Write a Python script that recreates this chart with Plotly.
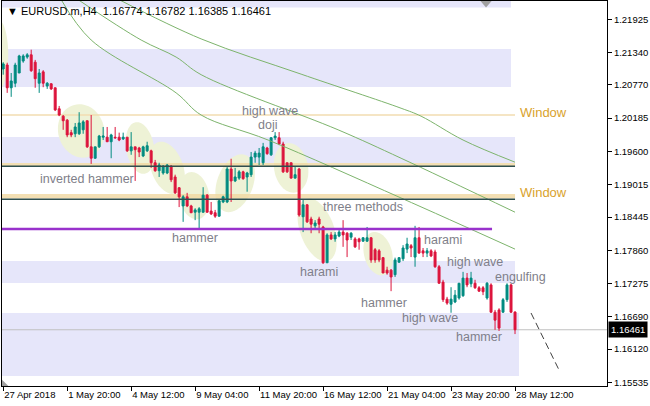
import math
import plotly.graph_objects as go

# ---------------- data ----------------
x_tick_bars = [0, 16, 32, 48, 64, 80, 96, 112, 128]
x_tick_labels = ["27 Apr 2018", "1 May 20:00", "4 May 12:00", "9 May 04:00", "11 May 20:00",
                 "16 May 12:00", "21 May 04:00", "23 May 20:00", "28 May 12:00"]
y_tick_values = [1.21925, 1.21340, 1.20770, 1.20185, 1.19600, 1.19015, 1.18445,
                 1.17860, 1.17275, 1.16690, 1.16120, 1.15535]

opens = [1.2105, 1.2112, 1.2072, 1.2080, 1.2098, 1.2119, 1.2126, 1.2130, 1.2117, 1.2080,
         1.2100, 1.2075, 1.2079, 1.2072, 1.2035, 1.2022, 1.2015, 1.1993, 1.1991, 1.1991,
         1.1998, 1.2014, 1.1968, 1.1948, 1.1968, 1.1985, 1.1985, 1.1977, 1.1985, 1.1985,
         1.1982, 1.1985, 1.1961, 1.1968, 1.1966, 1.1952, 1.1961, 1.1961, 1.1940, 1.1926,
         1.1922, 1.1922, 1.1934, 1.1915, 1.1896, 1.1864, 1.1880, 1.1864, 1.1853, 1.1853,
         1.1853, 1.1883, 1.1855, 1.1852, 1.1846, 1.1871, 1.1871, 1.1929, 1.1908, 1.1913,
         1.1924, 1.1915, 1.1919, 1.1950, 1.1950, 1.1940, 1.1966, 1.1954, 1.1984, 1.1984,
         1.1973, 1.1940, 1.1940, 1.1913, 1.1929, 1.1845, 1.1866, 1.1841, 1.1829, 1.1841,
         1.1827, 1.1764, 1.1813, 1.1806, 1.1811, 1.1818, 1.1816, 1.1809, 1.1806, 1.1806,
         1.1802, 1.1802, 1.1808, 1.1787, 1.1785, 1.1773, 1.1751, 1.1751, 1.1743, 1.1765,
         1.1771, 1.1788, 1.1794, 1.1774, 1.1808, 1.1785, 1.1781, 1.1785, 1.1783, 1.1757,
         1.1730, 1.1700, 1.1691, 1.1695, 1.1702, 1.1706, 1.1737, 1.1727, 1.1728, 1.1720,
         1.1720, 1.1702, 1.1725, 1.1677, 1.1681, 1.1677, 1.1699, 1.1725, 1.16774]
highs = [1.2117, 1.2116, 1.2098, 1.2116, 1.2130, 1.2131, 1.2133, 1.2139, 1.2121, 1.2105,
         1.2103, 1.2082, 1.2080, 1.2072, 1.2040, 1.2024, 1.2017, 1.1998, 1.2010, 1.2029,
         1.2015, 1.2014, 1.2024, 1.1968, 1.1989, 1.2003, 1.2003, 1.1991, 1.2003, 1.1993,
         1.1993, 1.1985, 1.1994, 1.1968, 1.1968, 1.1970, 1.1977, 1.1963, 1.1945, 1.1940,
         1.1936, 1.1938, 1.1936, 1.1919, 1.1897, 1.1883, 1.1887, 1.1866, 1.1860, 1.1862,
         1.1897, 1.1885, 1.1871, 1.1857, 1.1876, 1.1882, 1.1933, 1.1947, 1.1931, 1.1927,
         1.1926, 1.1924, 1.1959, 1.1961, 1.1966, 1.1975, 1.1968, 1.1985, 1.1994, 1.1994,
         1.1977, 1.1940, 1.1940, 1.1933, 1.1931, 1.1875, 1.1867, 1.1845, 1.1839, 1.1845,
         1.1829, 1.1816, 1.1818, 1.1818, 1.1825, 1.1839, 1.1818, 1.1818, 1.1809, 1.1808,
         1.1809, 1.1827, 1.1809, 1.1790, 1.1788, 1.1774, 1.1757, 1.1753, 1.1773, 1.1774,
         1.1795, 1.1808, 1.1797, 1.1829, 1.1827, 1.1790, 1.1790, 1.1788, 1.1787, 1.1760,
         1.1734, 1.1704, 1.1721, 1.1716, 1.1728, 1.1748, 1.1746, 1.1748, 1.1734, 1.1723,
         1.1723, 1.1730, 1.1728, 1.1681, 1.1684, 1.1702, 1.1728, 1.1727, 1.16782]
lows = [1.2095, 1.2063, 1.2056, 1.2073, 1.2098, 1.2116, 1.2123, 1.2100, 1.2072, 1.2063,
        1.2073, 1.2070, 1.2068, 1.2031, 1.2022, 1.1998, 1.1985, 1.1985, 1.1985, 1.1989,
        1.1991, 1.1966, 1.1938, 1.1947, 1.1966, 1.1980, 1.1977, 1.1948, 1.1982, 1.1978,
        1.1980, 1.1959, 1.1954, 1.1908, 1.1950, 1.1950, 1.1959, 1.1931, 1.1924, 1.1915,
        1.1919, 1.1920, 1.1906, 1.1885, 1.1862, 1.1836, 1.1862, 1.1852, 1.1839, 1.1822,
        1.1852, 1.1852, 1.1848, 1.1843, 1.1845, 1.1869, 1.1869, 1.1871, 1.1906, 1.1910,
        1.1910, 1.1889, 1.1915, 1.1940, 1.1936, 1.1936, 1.1954, 1.1952, 1.1980, 1.1971,
        1.1922, 1.1922, 1.1912, 1.1912, 1.1845, 1.1818, 1.1834, 1.1816, 1.1822, 1.1816,
        1.1762, 1.1764, 1.1804, 1.1801, 1.1809, 1.1792, 1.1774, 1.1804, 1.1790, 1.1787,
        1.1801, 1.1801, 1.1764, 1.1764, 1.1765, 1.1746, 1.1743, 1.1714, 1.1739, 1.1764,
        1.1767, 1.1781, 1.1774, 1.1757, 1.1780, 1.1774, 1.1774, 1.1774, 1.1755, 1.1727,
        1.1695, 1.1690, 1.1676, 1.1693, 1.1699, 1.1704, 1.1721, 1.1721, 1.1718, 1.1713,
        1.1707, 1.1699, 1.1676, 1.1646, 1.1644, 1.1676, 1.1695, 1.1676, 1.16385]
closes = [1.2114, 1.2072, 1.2084, 1.2112, 1.2128, 1.2128, 1.2130, 1.2102, 1.2088, 1.2098,
          1.2080, 1.2080, 1.2070, 1.2033, 1.2024, 1.2014, 1.1989, 1.1989, 1.2003, 1.2010,
          1.2012, 1.1968, 1.1948, 1.1968, 1.1987, 1.1987, 1.1977, 1.1989, 1.1984, 1.1980,
          1.1985, 1.1961, 1.1968, 1.1963, 1.1959, 1.1968, 1.1970, 1.1940, 1.1926, 1.1936,
          1.1934, 1.1936, 1.1910, 1.1887, 1.1880, 1.1880, 1.1864, 1.1852, 1.1857, 1.1859,
          1.1883, 1.1853, 1.1850, 1.1846, 1.1873, 1.1880, 1.1929, 1.1908, 1.1915, 1.1924,
          1.1912, 1.1922, 1.1950, 1.1957, 1.1957, 1.1968, 1.1956, 1.1984, 1.1987, 1.1973,
          1.1924, 1.1924, 1.1913, 1.1919, 1.1848, 1.1866, 1.1836, 1.1832, 1.1834, 1.1832,
          1.1764, 1.1813, 1.1806, 1.1813, 1.1818, 1.1813, 1.1804, 1.1816, 1.1792, 1.1801,
          1.1808, 1.1808, 1.1769, 1.1769, 1.1769, 1.1746, 1.1746, 1.1739, 1.1769, 1.1773,
          1.1790, 1.1797, 1.1790, 1.1808, 1.1781, 1.1781, 1.1785, 1.1776, 1.1757, 1.1728,
          1.1699, 1.1693, 1.1700, 1.1707, 1.1728, 1.1737, 1.1725, 1.1737, 1.1720, 1.1714,
          1.1713, 1.1728, 1.1677, 1.1663, 1.1649, 1.1699, 1.1725, 1.1677, 1.16461]
bars = list(range(len(opens)))

# moving averages (read points)
ma1_bars = [29, 49.5, 74.5, 99.5, 104.5, 115, 128]
ma1_vals = [1.2227, 1.2158, 1.2096, 1.2036, 1.2022, 1.1980, 1.1941]
ma2_bars = [18.75, 34.5, 43.25, 49.5, 83.75, 99.5, 128]
ma2_vals = [1.2227, 1.2156, 1.2126, 1.2095, 1.1998, 1.1948, 1.1853]
ma3_bars = [14.5, 22, 43.25, 49.5, 66.25, 99.5, 128]
ma3_vals = [1.2227, 1.2156, 1.2063, 1.2024, 1.1980, 1.1878, 1.1788]

# zones (lavender)
zone_top = [1.2240, 1.21403, 1.19854, 1.17671, 1.16756]
zone_bot = [1.22133, 1.20734, 1.19396, 1.17284, 1.15647]
zone_end = [127, 127, 128, 128, 129]

# pattern highlight ellipses: centre bar, centre price, half-width (bars), half-height (price), tilt deg
ell_cx = [-1.25, 19.5, 34.25, 41, 47.75, 58, 72, 78.5, 93.75]
ell_cy = [1.2130, 1.1996, 1.1966, 1.1931, 1.1882, 1.1904, 1.1931, 1.1822, 1.1780]
ell_a = [2.5, 5.75, 3.5, 4.0, 3.75, 4.5, 4.25, 4.25, 3.5]
ell_b = [0.0062, 0.00475, 0.0046, 0.0048, 0.0042, 0.0053, 0.0044, 0.0058, 0.0039]
ell_tilt = [0, -15, -10, -20, -10, 20, -10, -20, -15]

# pattern labels
lab_text = ["high wave", "doji", "inverted hammer", "hammer", "three methods", "harami",
            "harami", "high wave", "engulfing", "hammer", "high wave", "hammer"]
lab_bar = [66.75, 66, 21, 48, 90, 79, 110, 118, 129.25, 95.25, 106.75, 119]
lab_price = [1.20310, 1.20072, 1.19115, 1.18077, 1.18622, 1.17478, 1.18041, 1.17654,
             1.17390, 1.16932, 1.16668, 1.16334]

window_price = [1.20276, 1.18868]
window_line = 1.20241
window_band_top = [1.19395, 1.18851]
window_band_bot = [1.19343, 1.18771]
window_dark = [1.19340, 1.18757]
purple_level = 1.18234
purple_end = 122.25
last_price = 1.16461
proj_bars = [132, 139.25]
proj_prices = [1.16756, 1.15717]
title_text = "EURUSD.m,H4  1.16774 1.16782 1.16385 1.16461"
shift_marker_bar = 120.75

# ---------------- figure ----------------
BULL = "#008B80"
BEAR = "#DC143C"
PX_BAR = 4.0
PRICE_PX = 0.000176

shapes = []
for t, b, e in zip(zone_top, zone_bot, zone_end):
    shapes.append(dict(type="rect", xref="x", yref="y", x0=-1, x1=e, y0=b, y1=t,
                       fillcolor="#E6E6FA", line=dict(width=0), layer="below"))


def ellipse_path(cx, cy, a, b, tilt, n=60):
    rx = a * PX_BAR
    ry = b / PRICE_PX
    th = math.radians(tilt)
    pts = []
    for k in range(n):
        t = 2 * math.pi * k / n
        u = rx * math.cos(t)
        v = ry * math.sin(t)
        X = u * math.cos(th) + v * math.sin(th)
        Y = -u * math.sin(th) + v * math.cos(th)
        pts.append((cx + X / PX_BAR, cy + Y * PRICE_PX))
    return "M " + " L ".join(f"{p[0]:.4f},{p[1]:.6f}" for p in pts) + " Z"


for cx, cy, a, b, tl in zip(ell_cx, ell_cy, ell_a, ell_b, ell_tilt):
    shapes.append(dict(type="path", xref="x", yref="y", path=ellipse_path(cx, cy, a, b, tl),
                       fillcolor="#EEF2D6", line=dict(width=0), layer="below"))

shapes.append(dict(type="line", xref="x", yref="y", x0=-1, x1=128, y0=window_line, y1=window_line,
                   line=dict(color="#F2DDB0", width=1.5), layer="below"))
for t, b in zip(window_band_top, window_band_bot):
    shapes.append(dict(type="rect", xref="x", yref="y", x0=-1, x1=128, y0=b, y1=t,
                       fillcolor="rgba(240,215,160,0.8)", line=dict(width=0), layer="below"))
shapes.append(dict(type="line", xref="x", yref="y", x0=-1, x1=151.25, y0=last_price, y1=last_price,
                   line=dict(color="#C0C0C0", width=1), layer="below"))
for d in window_dark:
    shapes.append(dict(type="line", xref="x", yref="y", x0=-1, x1=128, y0=d, y1=d,
                       line=dict(color="#2F4F4F", width=1.5), layer="above"))
shapes.append(dict(type="line", xref="x", yref="y", x0=-1, x1=purple_end, y0=purple_level, y1=purple_level,
                   line=dict(color="#9932CC", width=2.5), layer="above"))
# chart-shift markers (small grey triangles)
shapes.append(dict(type="path", xref="x", yref="paper",
                   path=f"M {shift_marker_bar - 1.4},1 L {shift_marker_bar + 1.4},1 L {shift_marker_bar},0.983 Z",
                   fillcolor="#A0A0A0", line=dict(width=0), layer="above"))
shapes.append(dict(type="path", xref="x", yref="paper",
                   path="M -0.3,0 L 1.3,0 L -0.3,0.016 Z",
                   fillcolor="#A0A0A0", line=dict(width=0), layer="above"))

fig = go.Figure()
for xs, ys in [(ma1_bars, ma1_vals), (ma2_bars, ma2_vals), (ma3_bars, ma3_vals)]:
    fig.add_trace(go.Scatter(x=xs, y=ys, mode="lines", line=dict(color="#7DB46C", width=1, shape="spline"),
                             hoverinfo="skip", showlegend=False))

fig.add_trace(go.Candlestick(
    x=bars, open=opens, high=highs, low=lows, close=closes,
    increasing=dict(line=dict(color=BULL, width=1), fillcolor=BULL),
    decreasing=dict(line=dict(color=BEAR, width=1), fillcolor=BEAR),
    whiskerwidth=0, showlegend=False))

fig.add_trace(go.Scatter(x=proj_bars, y=proj_prices, mode="lines",
                         line=dict(color="#404040", width=1, dash="7px,4px"),
                         hoverinfo="skip", showlegend=False))

annotations = []
for t, xb, yp in zip(lab_text, lab_bar, lab_price):
    annotations.append(dict(x=xb, y=yp, xref="x", yref="y", text=t, showarrow=False,
                            font=dict(family="Liberation Sans, Arial", size=12.5, color="#7F7F8A")))
for yp in window_price:
    annotations.append(dict(x=135, y=yp, xref="x", yref="y", text="Window", showarrow=False,
                            font=dict(family="Liberation Sans, Arial", size=13, color="#D9A22C")))
annotations.append(dict(x=0, y=1, xref="paper", yref="paper", xanchor="left", yanchor="top",
                        xshift=3, yshift=-2, text="▼ " + title_text, showarrow=False,
                        font=dict(family="Liberation Sans, Arial", size=11, color="#000000")))
annotations.append(dict(x=1, y=last_price, xref="paper", yref="y", xanchor="left", yanchor="middle",
                        xshift=1, text=f"{last_price:.5f}", showarrow=False, bgcolor="#000000",
                        borderpad=2, font=dict(family="Liberation Sans, Arial", size=9.5, color="#FFFFFF")))

fig.update_layout(
    width=650, height=406,
    margin=dict(l=2, r=43, t=1, b=20, autoexpand=False),
    paper_bgcolor="white", plot_bgcolor="white",
    shapes=shapes, annotations=annotations, showlegend=False,
    xaxis=dict(range=[-0.3, 151.0], rangeslider=dict(visible=False), showgrid=False, zeroline=False,
               tickvals=x_tick_bars, ticktext=x_tick_labels, ticks="outside", ticklen=4,
               tickcolor="#000000", ticklabelposition="outside right", tickangle=0,
               tickfont=dict(family="Liberation Sans, Arial", size=9.5, color="#000000"),
               showline=True, linecolor="#000000", linewidth=1, mirror=True),
    yaxis=dict(range=[1.15471, 1.22247], side="right", showgrid=False, zeroline=False,
               tickvals=y_tick_values, ticktext=[f"{v:.5f}" for v in y_tick_values],
               ticks="outside", ticklen=4, tickcolor="#000000",
               tickfont=dict(family="Liberation Sans, Arial", size=9.5, color="#000000"),
               showline=True, linecolor="#000000", linewidth=1, mirror=True),
)

fig.write_html("out.html", config={"displayModeBar": False},
               post_script="document.body.style.margin='0';document.body.style.overflow='hidden';")
